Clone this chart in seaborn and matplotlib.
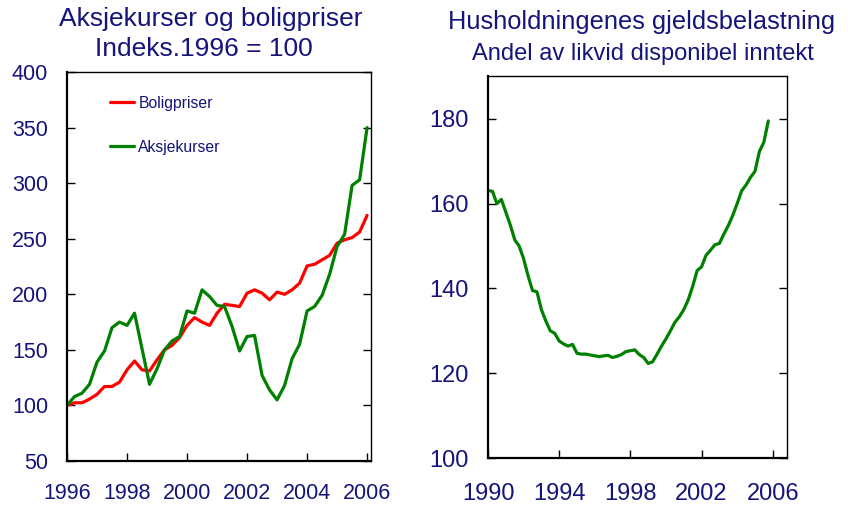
import numpy as np
import pandas as pd
import matplotlib
matplotlib.use("Agg")
import matplotlib.pyplot as plt
import seaborn as sns

# ---- Data -------------------------------------------------------------
# Left panel: quarterly 1996Q1 - 2006Q1, index 1996 = 100
left_start = 1996.0
boligpriser = [100, 102.4, 102.4, 105.7, 110, 117, 117, 121, 132, 140,
               132, 131, 141, 150, 154, 161, 172, 179, 175, 172,
               183, 191, 190, 189, 201, 204, 201, 195, 202, 200,
               204, 210, 225.5, 227, 231, 235, 246, 249, 251, 256, 271]
aksjekurser = [100, 108, 111, 119, 139, 149, 170, 175, 172, 183,
               151, 119, 133, 150, 158, 162, 185, 183, 204, 198,
               190, 189, 171, 149, 162, 163, 127, 114, 105, 118,
               142, 155, 185, 189, 199, 218, 243, 254, 298, 303, 350]

# Right panel: quarterly 1990Q1 - 2005Q4, debt burden (% of disposable income)
right_start = 1990.0
gjeldsbelastning = [163.1, 162.9, 160.0, 161.0, 158.0, 155.0, 151.5, 150.0,
                    147.0, 143.0, 139.5, 139.2, 135.0, 132.3, 130.0, 129.4,
                    127.6, 126.9, 126.4, 126.8, 124.7, 124.5, 124.5, 124.3,
                    124.1, 123.9, 124.1, 124.2, 123.7, 124.0, 124.4, 125.1,
                    125.3, 125.5, 124.4, 123.7, 122.3, 122.7, 124.5, 126.4,
                    128.1, 130.0, 132.0, 133.3, 135.0, 137.3, 140.5, 144.2,
                    145.1, 147.8, 149.0, 150.3, 150.6, 152.8, 154.8, 157.2,
                    160.0, 163.0, 164.4, 166.2, 167.6, 172.3, 174.5, 179.5]

left_series = ["Boligpriser", "Aksjekurser"]
left_colors = {"Boligpriser": "#ff0000", "Aksjekurser": "#008000"}
left_yticks = [50, 100, 150, 200, 250, 300, 350, 400]
left_xticks = [1996, 1998, 2000, 2002, 2004, 2006]
right_yticks = [100, 120, 140, 160, 180]
right_xticks = [1990, 1994, 1998, 2002, 2006]

# ---- Frames -----------------------------------------------------------
t_left = left_start + np.arange(len(boligpriser)) / 4.0
df_left = pd.concat([
    pd.DataFrame({"t": t_left, "v": boligpriser, "Serie": "Boligpriser"}),
    pd.DataFrame({"t": t_left, "v": aksjekurser, "Serie": "Aksjekurser"}),
])
t_right = right_start + np.arange(len(gjeldsbelastning)) / 4.0
df_right = pd.DataFrame({"t": t_right, "v": gjeldsbelastning})

# ---- Style ------------------------------------------------------------
sns.set_style("white")
plt.rcParams["font.family"] = ["Liberation Sans", "DejaVu Sans"]
navy = "#14147a"

fig = plt.figure(figsize=(8.48, 5.11), dpi=100)
axL = fig.add_axes([67/848, 1-461/511, (371-67)/848, (461-72)/511])
axR = fig.add_axes([488/848, 1-458/511, (787-488)/848, (458-76)/511])

sns.lineplot(data=df_left, x="t", y="v", hue="Serie", hue_order=left_series,
             palette=left_colors, linewidth=2.3, ax=axL, legend=True)
sns.lineplot(data=df_right, x="t", y="v", color="#008000", linewidth=2.3,
             ax=axR, legend=False)

def style_axes(ax, xlim, ylim, xticks, yticks, fs, xpad, ypad):
    ax.set_xlim(*xlim)
    ax.set_ylim(*ylim)
    ax.set_xticks(xticks)
    ax.set_yticks(yticks)
    ax.set_xlabel("")
    ax.set_ylabel("")
    ax.tick_params(axis="both", direction="in", length=6, width=1.0,
                   color="black", labelcolor=navy, labelsize=fs)
    ax.tick_params(axis="y", left=True, right=True, pad=ypad)
    ax.tick_params(axis="x", bottom=True, top=False, pad=xpad)
    for side in ["left", "bottom"]:
        ax.spines[side].set_linewidth(1.6)
        ax.spines[side].set_color("black")
    for side in ["top", "right"]:
        ax.spines[side].set_linewidth(1.0)
        ax.spines[side].set_color("black")
    ax.grid(False)

style_axes(axL, (1996, 2006.13), (50, 400), left_xticks, left_yticks,
           15.5, 16, 13.5)
style_axes(axR, (1990, 2006.8), (100, 190.1), right_xticks, right_yticks,
           17, 18, 14)

leg = axL.legend(loc="upper left", bbox_to_anchor=(0.142, 0.939), frameon=False,
                 fontsize=11.3, handlelength=1.5, handletextpad=0.3,
                 labelspacing=1.85, borderpad=0, borderaxespad=0)
for txt in leg.get_texts():
    txt.set_color(navy)
for line in leg.get_lines():
    line.set_linewidth(2.3)

# ---- Titles -----------------------------------------------------------
fig.text(211/848, 1-26/511, "Aksjekurser og boligpriser", ha="center",
         va="baseline", fontsize=19, color=navy)
fig.text(204/848, 1-56/511, "Indeks.1996 = 100", ha="center",
         va="baseline", fontsize=19, color=navy)
fig.text(641.5/848, 1-29/511, "Husholdningenes gjeldsbelastning", ha="center",
         va="baseline", fontsize=18.3, color=navy)
fig.text(642.5/848, 1-60/511, "Andel av likvid disponibel inntekt", ha="center",
         va="baseline", fontsize=17, color=navy)

fig.savefig("out.png", dpi=100)
